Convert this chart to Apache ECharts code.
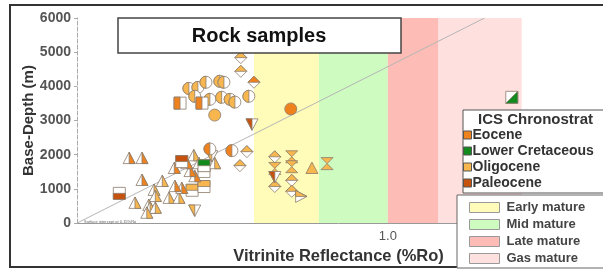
<!DOCTYPE html>
<html>
<head>
<meta charset="utf-8">
<script src="https://cdn.jsdelivr.net/npm/echarts@6/dist/echarts.min.js"></script>
<style>
  html, body { margin: 0; padding: 0; background: #fff; }
  #main { width: 603px; height: 270px; }
</style>
</head>
<body>
<div id="main"></div>
<script>
// ages (legend 1)
var ageNames = ['Eocene', 'Lower Cretaceous', 'Oligocene', 'Paleocene'];
var ageColors = ['#F0821E', '#138A1E', '#F7B74E', '#C6520E'];

// samples: [Ro %, base depth m, marker]
var eocenePts = [
    [0.341, 3510, 's'], [0.382, 3510, 's'], [0.500, 4120, 'd'], [0.605, 3340, 'C'],
    [0.398, 2170, 'c'], [0.446, 2120, 'c'],
    [0.262, 1890, 't'], [0.280, 1890, 't'], [0.280, 1250, 't'], [0.344, 1015, 't'],
    [0.331, 1600, 't'], [0.368, 1360, 't'], [0.332, 1070, 't'], [0.359, 1510, 't'],
    [0.353, 1740, 't']
];
var cretaceousPts = [
    [0.386, 1680, 'h'], [1.90, 3680, 'g']
];
var oligocenePts = [
    [0.357, 3940, 'c'], [0.374, 3970, 'c'], [0.390, 4120, 'c'], [0.419, 4150, 'c'],
    [0.428, 4120, 'c'], [0.368, 3710, 'c'], [0.398, 3620, 'c'], [0.423, 3680, 'c'],
    [0.442, 3620, 'c'], [0.453, 3540, 'c'], [0.487, 3710, 'c'], [0.408, 3160, 'C'],
    [0.467, 4840, 'd'], [0.467, 4440, 'd'],
    [0.402, 1970, 'v'], [0.482, 2090, 'd'], [0.465, 1680, 'd'], [0.386, 1510, 'h'],
    [0.363, 960, 'h'], [0.386, 1070, 'h'],
    [0.311, 1220, 't'], [0.298, 960, 't'], [0.300, 780, 't'], [0.270, 580, 't'],
    [0.290, 520, 't'], [0.292, 435, 't'], [0.300, 435, 't'], [0.287, 290, 't'],
    [0.322, 725, 't'], [0.339, 725, 't'], [0.366, 1970, 't'], [0.408, 1740, 't'],
    [0.376, 1740, 't'], [0.368, 380, 'v'],
    [0.557, 1940, 'd'], [0.608, 1940, 'x'], [0.557, 1600, 'x'], [0.608, 1650, 'x'],
    [0.675, 1600, 'T'], [0.730, 1740, 'x'], [0.557, 1070, 'd'], [0.608, 1250, 'd'],
    [0.608, 930, 'd'], [0.637, 780, 'r']
];
var paleocenePts = [
    [0.495, 2900, 'v'], [0.249, 870, 'u'], [0.344, 1800, 'h'], [0.557, 1360, 'v']
];

// maturity windows (legend 2)
var bandNames = ['Early mature', 'Mid mature', 'Late mature', 'Gas mature'];
var bandEdges = [0.5, 0.7, 1.0, 1.3, 2.0];
var bandColors = ['#FEFCB8', '#CDFBC0', '#FDBDB6', '#FEE0DF'];

// trend line
var trendRo = [0.2, 1.65];
var trendDepth = [0, 6000];

var yTicks = [0, 1000, 2000, 3000, 4000, 5000, 6000];

var myChart = echarts.init(document.getElementById('main'));

// half filled markers
function markerItem(pts, color) {
    return function (params, api) {
        var p = pts[params.dataIndex];
        var c = api.coord([p[0], p[1]]);
        var x = c[0], y = c[1], r = 6;
        var line = '#8c7b6b';
        var white = { fill: '#fff', stroke: line, lineWidth: 0.8 };
        var full = { fill: color, stroke: line, lineWidth: 0.8 };
        var kids = [];
        function poly(list, style) {
            kids.push({
                type: 'polygon',
                shape: { points: list.map(function (q) { return [x + q[0] * r, y + q[1] * r]; }) },
                style: style
            });
        }
        var sq = [[-1, -1], [1, -1], [1, 1], [-1, 1]];
        switch (p[2]) {
            case 'c':
                kids.push({ type: 'circle', shape: { cx: x, cy: y, r: r }, style: white });
                kids.push({ type: 'sector', shape: { cx: x, cy: y, r0: 0, r: r, startAngle: Math.PI / 2, endAngle: Math.PI * 1.5, clockwise: true }, style: full });
                break;
            case 'C':
                kids.push({ type: 'circle', shape: { cx: x, cy: y, r: r }, style: full });
                break;
            case 't':
                poly([[0, -1.05], [1, 0.85], [-1, 0.85]], white);
                poly([[0, -1.05], [1, 0.85], [0, 0.85]], full);
                break;
            case 'T':
                poly([[0, -1.05], [1, 0.85], [-1, 0.85]], full);
                break;
            case 'v':
                poly([[-1, -0.85], [1, -0.85], [0, 1.05]], white);
                poly([[-1, -0.85], [0, -0.85], [0, 1.05]], full);
                break;
            case 'd':
                poly([[0, -1], [1, 0], [0, 1], [-1, 0]], white);
                poly([[0, -1], [1, 0], [-1, 0]], full);
                break;
            case 's':
                poly(sq, white);
                poly([[-1, -1], [0, -1], [0, 1], [-1, 1]], full);
                break;
            case 'h':
                poly(sq, white);
                poly([[-1, -1], [1, -1], [1, 0], [-1, 0]], full);
                break;
            case 'u':
                poly(sq, white);
                poly([[-1, 0], [1, 0], [1, 1], [-1, 1]], full);
                break;
            case 'g':
                poly(sq, white);
                poly([[1, -1], [1, 1], [-1, 1]], full);
                break;
            case 'x':
                poly([[-1, -1], [1, -1], [0, 0]], full);
                poly([[0, 0], [1, 1], [-1, 1]], full);
                break;
            case 'r':
                poly([[-0.85, -1], [1.05, 0], [-0.85, 1]], white);
                poly([[-0.85, -1], [1.05, 0], [-0.85, 0]], full);
                break;
        }
        return { type: 'group', children: kids };
    };
}

var ageSets = [eocenePts, cretaceousPts, oligocenePts, paleocenePts];
var drawOrder = [2, 0, 3, 1];

var series = [];
bandNames.forEach(function (name, i) {
    series.push({
        name: name,
        type: 'line',
        data: [],
        z: 1,
        itemStyle: { color: bandColors[i] },
        markArea: {
            silent: true,
            itemStyle: { color: bandColors[i] },
            data: [[{ xAxis: bandEdges[i] }, { xAxis: bandEdges[i + 1] }]]
        }
    });
});
series.push({
    type: 'line',
    z: 2,
    silent: true,
    symbol: 'none',
    lineStyle: { color: '#b5b5b5', width: 1 },
    data: trendRo.map(function (v, i) { return [v, trendDepth[i]]; })
});
drawOrder.forEach(function (k) {
    var pts = ageSets[k];
    series.push({
        name: ageNames[k],
        type: 'custom',
        z: 3,
        itemStyle: { color: ageColors[k] },
        renderItem: markerItem(pts, ageColors[k]),
        encode: { x: 0, y: 1 },
        data: pts.map(function (p) { return [p[0], p[1]]; })
    });
});

var option = {
    animation: false,
    textStyle: { fontFamily: 'Liberation Sans, Arial, sans-serif' },
    grid: { left: 77, right: 3, top: 18, bottom: 45 },
    xAxis: {
        type: 'log',
        logBase: 10,
        min: 0.2,
        max: 3,
        name: 'Vitrinite Reflectance (%Ro)',
        nameLocation: 'middle',
        nameGap: 23,
        nameTextStyle: { fontSize: 16.5, fontWeight: 'bold', color: '#333' },
        axisLine: { lineStyle: { color: '#999' } },
        axisTick: { show: false },
        splitLine: { show: false },
        axisLabel: {
            margin: 7,
            fontSize: 13,
            color: '#555',
            formatter: function (v) { return Math.abs(v - 1) < 1e-6 ? '1.0' : ''; }
        }
    },
    yAxis: {
        type: 'value',
        min: yTicks[0],
        max: yTicks[yTicks.length - 1],
        interval: 1000,
        name: 'Base-Depth (m)',
        nameLocation: 'middle',
        nameGap: 41,
        nameMoveOverlap: false,
        nameTextStyle: { fontSize: 15, fontWeight: 'bold', color: '#333' },
        axisLine: { show: true, lineStyle: { color: '#aaa', type: 'dashed' } },
        axisTick: { show: true, length: 3, lineStyle: { color: '#aaa' } },
        splitLine: { show: false },
        axisLabel: {
            margin: 6, fontSize: 14, fontWeight: 'bold', color: '#555',
            formatter: function (v) { return String(v); }
        }
    },
    legend: [{
        data: ageNames,
        z: 20,
        orient: 'vertical',
        left: 463,
        top: 128,
        padding: 0,
        itemWidth: 8,
        itemHeight: 8,
        itemGap: 2,
        icon: 'rect',
        selectedMode: false,
        itemStyle: { borderColor: '#555', borderWidth: 1 },
        textStyle: { fontSize: 14, lineHeight: 14, fontWeight: 'bold', color: '#333', padding: [0, 0, 0, -4] }
    }, {
        data: bandNames,
        z: 20,
        orient: 'vertical',
        left: 469,
        top: 201,
        padding: 0,
        itemWidth: 30,
        itemHeight: 10,
        itemGap: 4,
        icon: 'rect',
        selectedMode: false,
        itemStyle: { borderColor: '#999', borderWidth: 1 },
        textStyle: { fontSize: 13, lineHeight: 13, fontWeight: 'bold', color: '#444', padding: [0, 0, 0, 2] }
    }],
    graphic: [
        // outer frame
        { type: 'rect', z: 0, silent: true, shape: { x: 10, y: 5, width: 640, height: 262 }, style: { fill: 'none', stroke: '#333', lineWidth: 2 } },
        // title box
        { type: 'rect', z: 10, shape: { x: 118, y: 18, width: 283, height: 35 }, style: { fill: '#fff', stroke: '#444', lineWidth: 1.5 } },
        { type: 'text', z: 11, x: 259, y: 36, style: { text: 'Rock samples', fontSize: 20, fontWeight: 'bold', fill: '#111', align: 'center', verticalAlign: 'middle', fontFamily: 'Liberation Sans, Arial, sans-serif' } },
        // legend boxes
        { type: 'rect', z: 5, shape: { x: 463, y: 110, width: 160, height: 83 }, style: { fill: '#fff', stroke: '#555', lineWidth: 1 } },
        { type: 'text', z: 11, x: 478, y: 120, style: { text: 'ICS Chronostrat', fontSize: 15, fontWeight: 'bold', fill: '#333', verticalAlign: 'middle', fontFamily: 'Liberation Sans, Arial, sans-serif' } },
        { type: 'rect', z: 5, shape: { x: 457, y: 195, width: 170, height: 73 }, style: { fill: '#fff', stroke: '#666', lineWidth: 1 } },
        // tiny note on the trend line
        { type: 'text', z: 11, x: 84, y: 222, style: { text: 'Surface intercept at 0.15%Ro', fontSize: 4, fill: '#666', verticalAlign: 'middle' } }
    ],
    series: series
};

myChart.setOption(option);
</script>
</body>
</html>
